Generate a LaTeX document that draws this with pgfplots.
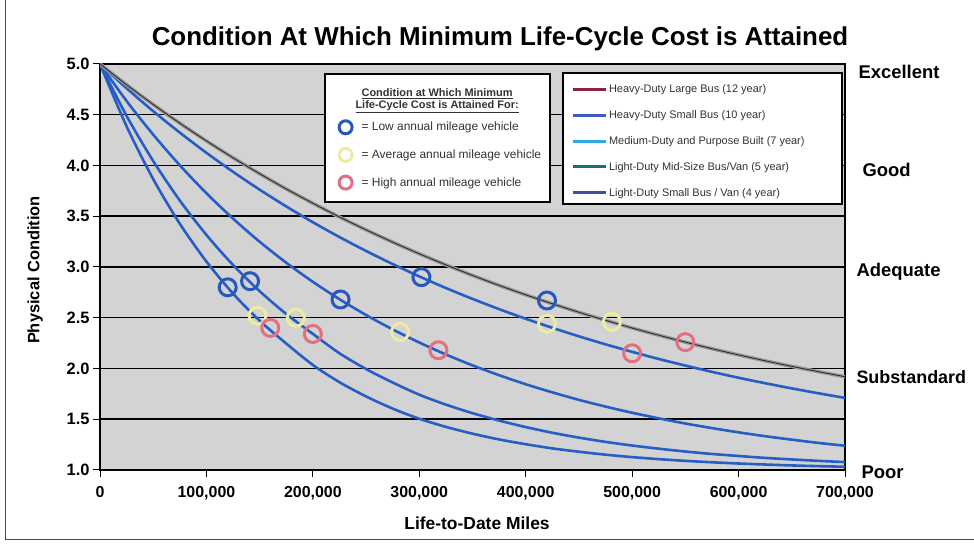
\documentclass[border=0pt]{standalone}
\usepackage{fontspec}
\setmainfont{Liberation Sans}
\usepackage{pgfplots}
\pgfplotsset{compat=1.18}
\definecolor{bgplot}{RGB}{212,211,211}
\definecolor{curveblue}{RGB}{38,94,196}
\definecolor{curvegray}{RGB}{150,150,150}
\definecolor{mkblue}{RGB}{40,88,190}
\definecolor{mkyellow}{RGB}{236,236,165}
\definecolor{mkred}{RGB}{226,112,128}
\definecolor{lgA}{RGB}{140,35,65}
\definecolor{lgB}{RGB}{62,92,190}
\definecolor{lgC}{RGB}{45,170,225}
\definecolor{lgD}{RGB}{25,110,110}
\definecolor{lgE}{RGB}{60,80,170}
\begin{document}
\begin{tikzpicture}
\path[use as bounding box] (0,0) rectangle (974bp,545bp);
\begin{axis}[
 at={(100bp,75bp)}, anchor=south west,
 scale only axis, width=745bp, height=406bp,
 xmin=0, xmax=700000, ymin=1, ymax=5,
 xtick={0,100000,200000,300000,400000,500000,600000,700000},
 xticklabels={0,{100,000},{200,000},{300,000},{400,000},{500,000},{600,000},{700,000}},
 ytick={1,1.5,2,2.5,3,3.5,4,4.5,5},
 yticklabels={1.0,1.5,2.0,2.5,3.0,3.5,4.0,4.5,5.0},
 scaled x ticks=false,
 tick pos=left, tick align=outside, major tick length=7bp,
 tick style={black, line width=1bp},
 xticklabel style={font=\fontsize{16}{18}\selectfont\bfseries, yshift=-6bp},
 yticklabel style={font=\fontsize{16.5}{18}\selectfont\bfseries},
 axis background/.style={fill=bgplot},
 ymajorgrids, major grid style={black, line width=1.5bp},
 axis line style={black, line width=1.2bp},
 legend style={at={(0.632,0.955)}, anchor=north west, draw=none, fill=none,
   font=\fontsize{11}{12.5}\selectfont, text=black!80, row sep=12.5bp, inner xsep=0bp, inner ysep=0bp},
 legend cell align=left,
 legend image code/.code={\draw[#1] (0bp,0bp) -- (33bp,0bp);},
]
\draw[fill=white, line width=1.2bp] (rel axis cs:0.6215,0.9778) rectangle (rel axis cs:0.9960,0.6552);
\addlegendimage{lgA, line width=3bp}\addlegendentry{Heavy-Duty Large Bus (12 year)}
\addlegendimage{lgB, line width=3bp}\addlegendentry{Heavy-Duty Small Bus (10 year)}
\addlegendimage{lgC, line width=3bp}\addlegendentry{Medium-Duty and Purpose Built (7 year)}
\addlegendimage{lgD, line width=3bp}\addlegendentry{Light-Duty Mid-Size Bus/Van (5 year)}
\addlegendimage{lgE, line width=3bp}\addlegendentry{Light-Duty Small Bus / Van (4 year)}
% Light-Duty Small Bus / Van
\addplot[curveblue, line width=2.6bp, smooth, forget plot] coordinates {
(0,5) (25000,4.386) (50000,3.866) (75000,3.426) (100000,3.054) (125000,2.738) (150000,2.471) (175000,2.246) (200000,2.035) (225000,1.865) (250000,1.725) (275000,1.605) (300000,1.505) (325000,1.425) (350000,1.358) (375000,1.301) (400000,1.254) (425000,1.213) (450000,1.180) (475000,1.151) (500000,1.127) (525000,1.107) (550000,1.090) (575000,1.076) (600000,1.064) (625000,1.054) (650000,1.045) (675000,1.038) (700000,1.032)};
% Light-Duty Mid-Size Bus/Van
\addplot[curveblue, line width=2.6bp, smooth, forget plot] coordinates {
(0,5) (25000,4.489) (50000,4.044) (75000,3.655) (100000,3.316) (125000,3.020) (150000,2.762) (175000,2.537) (200000,2.341) (225000,2.150) (250000,1.995) (275000,1.862) (300000,1.742) (325000,1.644) (350000,1.560) (375000,1.487) (400000,1.423) (425000,1.367) (450000,1.319) (475000,1.277) (500000,1.241) (525000,1.210) (550000,1.182) (575000,1.158) (600000,1.138) (625000,1.119) (650000,1.104) (675000,1.090) (700000,1.078)};
% Medium-Duty and Purpose Built
\addplot[curveblue, line width=2.6bp, smooth, forget plot] coordinates {
(0,5) (25000,4.635) (50000,4.304) (75000,4.002) (100000,3.727) (125000,3.477) (150000,3.249) (175000,3.042) (200000,2.854) (225000,2.683) (250000,2.527) (275000,2.385) (300000,2.256) (325000,2.138) (350000,2.031) (375000,1.934) (400000,1.845) (425000,1.765) (450000,1.691) (475000,1.625) (500000,1.564) (525000,1.509) (550000,1.458) (575000,1.413) (600000,1.371) (625000,1.333) (650000,1.299) (675000,1.267) (700000,1.239)};
% Heavy-Duty Small Bus
\addplot[curveblue, line width=2.6bp, smooth, forget plot] coordinates {
(0,5) (25000,4.761) (50000,4.535) (75000,4.324) (100000,4.125) (125000,3.938) (150000,3.762) (175000,3.597) (200000,3.441) (225000,3.295) (250000,3.158) (275000,3.029) (300000,2.907) (325000,2.793) (350000,2.686) (375000,2.585) (400000,2.490) (425000,2.401) (450000,2.317) (475000,2.238) (500000,2.164) (525000,2.094) (550000,2.029) (575000,1.967) (600000,1.909) (625000,1.855) (650000,1.804) (675000,1.756) (700000,1.710)};
% Heavy-Duty Large Bus
\addplot[draw=black!85, line width=0.8bp, preaction={draw=curvegray, line width=3.5bp}, smooth, forget plot] coordinates {
(0,5) (25000,4.795) (50000,4.601) (75000,4.417) (100000,4.242) (125000,4.076) (150000,3.919) (175000,3.769) (200000,3.628) (225000,3.493) (250000,3.366) (275000,3.245) (300000,3.130) (325000,3.021) (350000,2.917) (375000,2.819) (400000,2.726) (425000,2.638) (450000,2.554) (475000,2.475) (500000,2.399) (525000,2.328) (550000,2.260) (575000,2.195) (600000,2.134) (625000,2.076) (650000,2.021) (675000,1.969) (700000,1.919)};
\end{axis}
\begin{axis}[
 at={(100bp,75bp)}, anchor=south west,
 scale only axis, width=745bp, height=406bp,
 xmin=0, xmax=700000, ymin=1, ymax=5, hide axis,
 legend style={at={(0.320,0.862)}, anchor=north west, draw=none, fill=none,
   font=\fontsize{12}{13.5}\selectfont, text=black!80, row sep=13.5bp, inner xsep=0bp, inner ysep=0bp},
 legend cell align=left,
 legend image code/.code={\path[draw=none, fill=none] (0bp,-1bp) rectangle (21bp,1bp); \draw[#1, mark size=6.5bp] plot coordinates {(7bp,0bp)};},
]
\draw[fill=white, line width=1.2bp] (rel axis cs:0.3020,0.9754) rectangle (rel axis cs:0.6040,0.6601);
\node[align=center, font=\fontsize{11}{11.5}\selectfont\bfseries, text=black!80] at (rel axis cs:0.4525,0.9100) {\underline{Condition at Which Minimum}\\\underline{Life-Cycle Cost is Attained For:}};
\addplot[only marks, mark=o, mark size=8.5bp, mkblue, line width=3bp] coordinates {
(120000,2.80) (141000,2.86) (226000,2.68) (302000,2.90) (420000,2.67)};
\addlegendentry{= Low annual mileage vehicle}
\addplot[only marks, mark=o, mark size=8.5bp, mkyellow, line width=3bp] coordinates {
(148000,2.52) (184000,2.50) (282000,2.36) (420000,2.44) (481000,2.46)};
\addlegendentry{= Average annual mileage vehicle}
\addplot[only marks, mark=o, mark size=8.5bp, mkred, line width=3bp] coordinates {
(160000,2.40) (200000,2.34) (318000,2.18) (500000,2.15) (550000,2.26)};
\addlegendentry{= High annual mileage vehicle}
\end{axis}
\node[font=\fontsize{26}{29}\selectfont\bfseries] at (500bp,506bp) {Condition At Which Minimum Life-Cycle Cost is Attained};
\node[font=\fontsize{17.5}{20}\selectfont\bfseries] at (477bp,22bp) {Life-to-Date Miles};
\node[rotate=90, font=\fontsize{16.5}{19}\selectfont\bfseries] at (35bp,275bp) {Physical Condition};
\node[anchor=west, font=\fontsize{18.5}{21}\selectfont\bfseries] at (855bp,473bp) {Excellent};
\node[anchor=west, font=\fontsize{18.5}{21}\selectfont\bfseries] at (859bp,375bp) {Good};
\node[anchor=west, font=\fontsize{18.5}{21}\selectfont\bfseries] at (853bp,273bp) {Adequate};
\node[anchor=west, font=\fontsize{18}{21}\selectfont\bfseries] at (853bp,168bp) {Substandard};
\node[anchor=west, font=\fontsize{18.5}{21}\selectfont\bfseries] at (858bp,73bp) {Poor};
\draw[black!70, line width=0.8bp] (5bp,545bp) -- (5bp,6bp) -- (974bp,6bp);
\end{tikzpicture}
\end{document}
